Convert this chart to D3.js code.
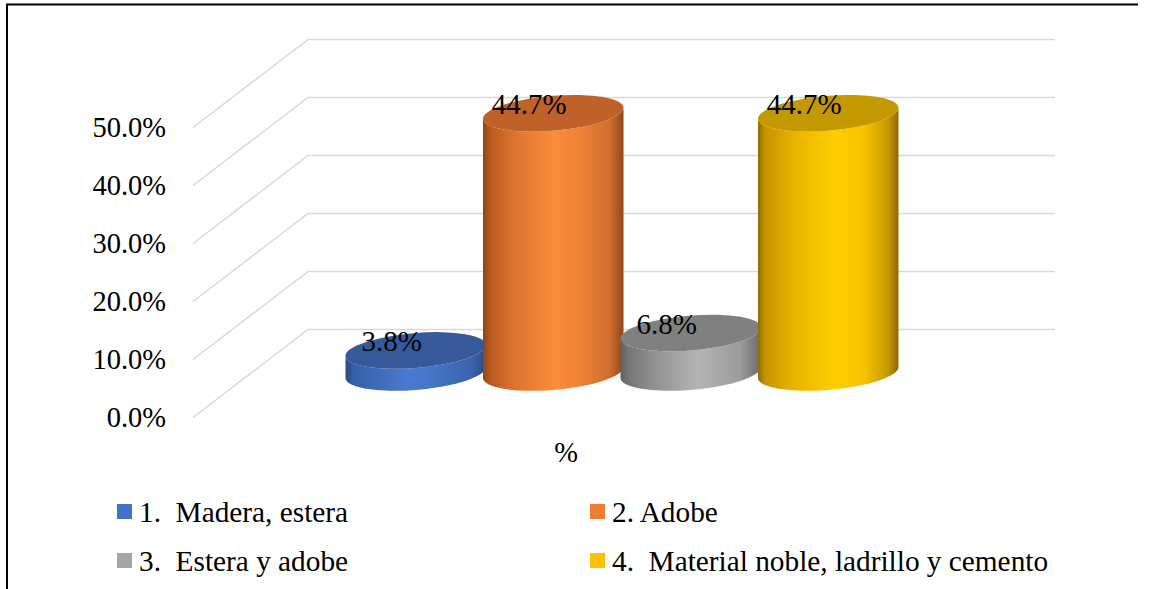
<!DOCTYPE html>
<html>
<head>
<meta charset="utf-8">
<script src="https://cdn.jsdelivr.net/npm/d3@7"></script>
<style>
  html, body { margin: 0; padding: 0; background: #fff; }
  svg { display: block; font-family: "Liberation Serif", "Times New Roman", serif; }
</style>
</head>
<body>
<svg id="chart" width="1149" height="589"></svg>
<script>
// Housing material shares (%)
const categories = ["1.  Madera, estera", "2. Adobe", "3.  Estera y adobe", "4.  Material noble, ladrillo y cemento"];
const values = [3.8, 44.7, 6.8, 44.7];
const tickValues = [0, 10, 20, 30, 40, 50];
const axisTitle = "%";

// Gradient stops per series: [offset, color]
const palette = [
  { top: "#37599a", key: "#4472c4",
    stops: [[0, "#2b4a82"], [0.06, "#3560a8"], [0.45, "#4a7bd2"], [0.6, "#4675c8"], [0.9, "#3a63ad"], [1, "#2b4a82"]] },
  { top: "#bf6129", key: "#ed7d31",
    stops: [[0, "#8a4620"], [0.05, "#b9581f"], [0.22, "#dc7430"], [0.5, "#fb8c3a"], [0.68, "#f08535"], [0.9, "#cf6e2d"], [0.97, "#a4531f"], [1, "#8a4620"]] },
  { top: "#808080", key: "#a5a5a5",
    stops: [[0, "#5f5f5f"], [0.05, "#747474"], [0.25, "#939393"], [0.55, "#b4b4b4"], [0.85, "#9c9c9c"], [1, "#6a6a6a"]] },
  { top: "#c39800", key: "#ffc000",
    stops: [[0, "#8a6c00"], [0.05, "#c39400"], [0.25, "#e8b400"], [0.55, "#ffcf00"], [0.75, "#f8c400"], [0.92, "#c89a00"], [1, "#8a6c00"]] }
];

const svg = d3.select("#chart");

// Chart frame (top and left edges)
svg.append("line").attr("x1", 6).attr("x2", 1138).attr("y1", 4.5).attr("y2", 4.5)
  .attr("stroke", "#000").attr("stroke-width", 2);
svg.append("line").attr("x1", 7).attr("x2", 7).attr("y1", 4).attr("y2", 589)
  .attr("stroke", "#000").attr("stroke-width", 2);

// 3D geometry: back wall scale, depth offset to the front edge
const yBack = d3.scaleLinear().domain([0, 50]).range([329.5, 39.5]);
const depthX = -115, depthY = 88;        // back wall -> front edge
const wallLeft = 308, wallRight = 1055;
const midDepthY = 43;                     // cylinders stand halfway in depth

const x = d3.scaleBand().domain(categories).range([347, 897]).paddingInner(0).paddingOuter(0);

// Gridlines: back wall horizontal + left wall diagonal
const grid = svg.append("g").attr("stroke", "#d9d9d9").attr("stroke-width", 1.5).attr("fill", "none");
grid.selectAll("path").data(tickValues).join("path")
  .attr("d", v => `M${wallLeft + depthX},${yBack(v) + depthY}L${wallLeft},${yBack(v)}L${wallRight},${yBack(v)}`);

// Tick labels at the front edge
svg.append("g").selectAll("text").data(tickValues).join("text")
  .attr("x", 166).attr("y", v => yBack(v) + depthY)
  .attr("text-anchor", "end").attr("dominant-baseline", "central")
  .attr("font-size", 28.5).attr("fill", "#000")
  .text(v => d3.format(".1f")(v) + "%");

// Gradients
const defs = svg.append("defs");
palette.forEach((p, i) => {
  const g = defs.append("linearGradient").attr("id", "cyl" + i)
    .attr("x1", "0%").attr("x2", "100%").attr("y1", "0%").attr("y2", "0%");
  p.stops.forEach(s => g.append("stop").attr("offset", s[0]).attr("stop-color", s[1]));
});

// Cylinders (slightly wider than the band so neighbours overlap a little)
const ry = 17.5;
const tilt = -4.5;
const rx = x.bandwidth() / 2 + 1.5;
const cyl = svg.append("g").selectAll("g").data(categories).join("g")
  .attr("transform", d => `translate(${x(d) + x.bandwidth() / 2},0) skewY(${tilt})`);

cyl.each(function (d, i) {
  const g = d3.select(this);
  const yBot = yBack(0) + midDepthY;
  const yTop = yBack(values[i]) + midDepthY;
  g.append("path")
    .attr("d", `M${-rx},${yTop}L${-rx},${yBot}A${rx},${ry} 0 0 0 ${rx},${yBot}L${rx},${yTop}A${rx},${ry} 0 0 1 ${-rx},${yTop}Z`)
    .attr("fill", `url(#cyl${i})`);
  g.append("ellipse").attr("cx", 0).attr("cy", yTop).attr("rx", rx).attr("ry", ry)
    .attr("fill", palette[i].top);
});

// Value labels
svg.append("g").selectAll("text").data(categories).join("text")
  .attr("x", d => x(d) + x.bandwidth() / 2 - 24)
  .attr("y", (d, i) => yBack(values[i]) + midDepthY - 9)
  .attr("text-anchor", "middle").attr("dominant-baseline", "central")
  .attr("font-size", 29).attr("fill", "#000")
  .text((d, i) => d3.format(".1f")(values[i]) + "%");

// Axis title
svg.append("text").attr("x", 566).attr("y", 452)
  .attr("text-anchor", "middle").attr("dominant-baseline", "central")
  .attr("font-size", 28.5).text(axisTitle);

// Legend (2 columns x 2 rows)
const legCols = [117, 590], legRows = [511.5, 560.5];
const leg = svg.append("g").selectAll("g").data(categories).join("g")
  .attr("transform", (d, i) => `translate(${legCols[i % 2]},${legRows[Math.floor(i / 2)]})`);
leg.append("rect").attr("x", 0).attr("y", -7.5).attr("width", 15).attr("height", 15)
  .attr("fill", (d, i) => palette[i].key);
leg.append("text").attr("x", 22).attr("y", 0)
  .attr("dominant-baseline", "central").attr("font-size", 29.3)
  .attr("xml:space", "preserve").style("white-space", "pre")
  .text(d => d);
</script>
</body>
</html>
